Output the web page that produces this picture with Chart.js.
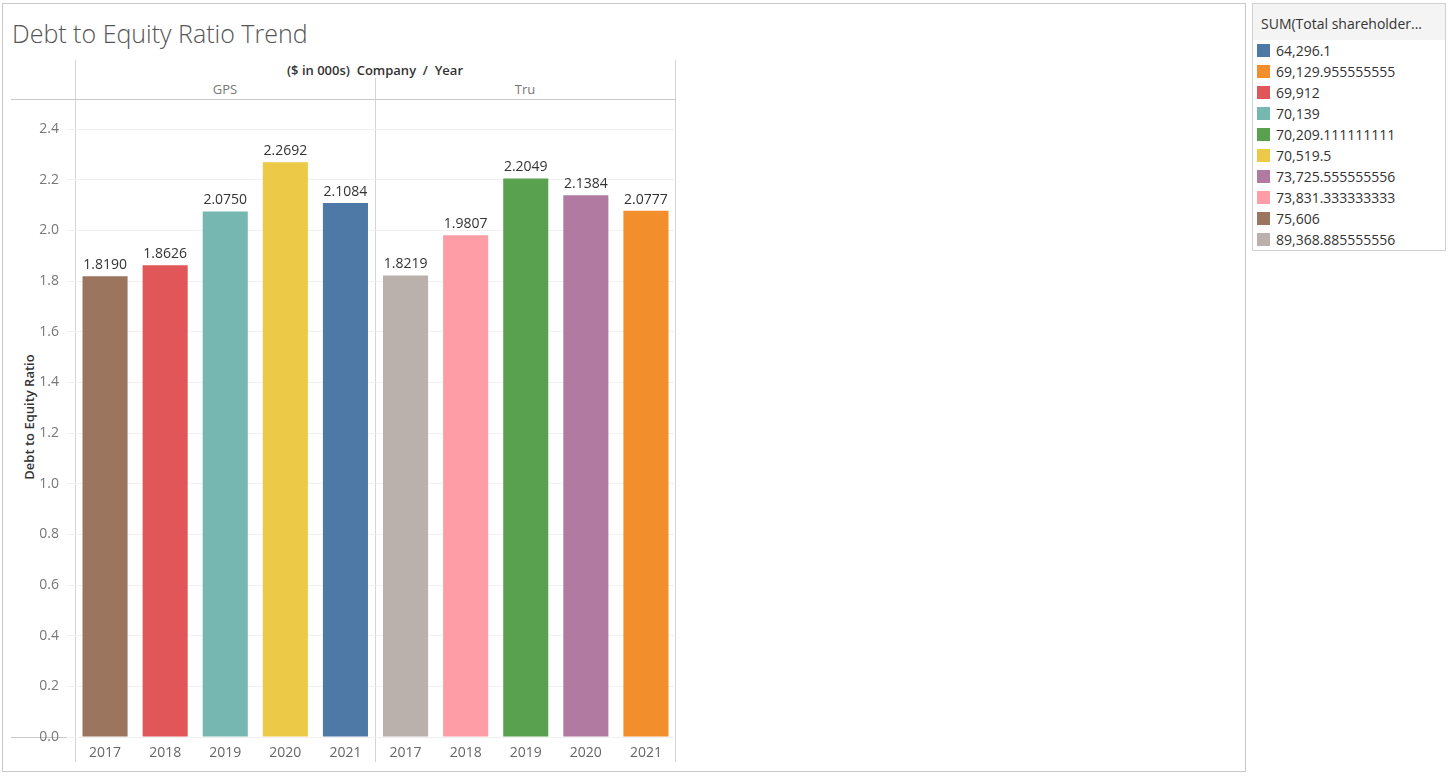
<!DOCTYPE html>
<html><head><meta charset="utf-8">
<script src="https://cdn.jsdelivr.net/npm/chart.js@4"></script>
<style>
body{margin:0;width:1450px;height:782px;background:#fff;font-family:"Open Sans",Lato,sans-serif;position:relative;overflow:hidden}
.abs{position:absolute}
#frame{left:2px;top:3px;width:1242px;height:767px;border:1px solid #c8c8c8}
#title{left:12px;top:16px;font-size:25px;color:#555;font-weight:300}
#yt{left:29px;top:417px;transform:translate(-50%,-50%) rotate(-90deg);font-size:13px;color:#333;font-weight:600;white-space:nowrap}
.hl{background:#c8c8c8;height:1px}
.vl{background:#d4d4d4;width:1px}
#legend{left:1252px;top:3px;width:192px;height:246px;border:1px solid #d0d0d0;font-size:14px;color:#333}
#legend .hd{background:#f4f4f4;padding:10px 0 0 8px;height:26px;font-size:14px}
#legend .it{height:21px;display:flex;align-items:center;padding-left:4px}
#legend .sw{width:13px;height:13px;margin-right:6px}
</style></head><body>
<div id="frame" class="abs"></div>
<div id="title" class="abs">Debt to Equity Ratio Trend</div>
<div class="abs" style="left:75px;top:61px;width:600px;text-align:center;font-size:13px;color:#333;font-weight:600">($ in 000s)&nbsp; Company&nbsp; /&nbsp; Year</div>
<div class="abs" style="left:75px;top:80px;width:300px;text-align:center;font-size:13px;color:#777">GPS</div>
<div class="abs" style="left:375px;top:80px;width:300px;text-align:center;font-size:13px;color:#777">Tru</div>
<div class="abs vl" style="left:75px;top:60px;height:702px"></div>
<div class="abs vl" style="left:375px;top:78px;height:684px"></div>
<div class="abs vl" style="left:675px;top:60px;height:702px"></div>
<div class="abs hl" style="left:11px;top:99px;width:665px"></div>
<div class="abs hl" style="left:11px;top:737px;width:665px"></div>
<div id="yt" class="abs">Debt to Equity Ratio</div>
<div class="abs" style="left:11px;top:100px;width:665px;height:662px"><canvas id="c"></canvas></div>
<div id="legend" class="abs"><div class="hd">SUM(Total shareholder...</div><div id="li"></div></div>
<script>
const companies=["GPS","Tru"];
const years=["2017","2018","2019","2020","2021","2017","2018","2019","2020","2021"];
const values=[1.8190,1.8626,2.0750,2.2692,2.1084,1.8219,1.9807,2.2049,2.1384,2.0777];
const yTicks=[0,0.2,0.4,0.6,0.8,1.0,1.2,1.4,1.6,1.8,2.0,2.2,2.4];
const barColors=["#9c755f","#e15759","#76b7b2","#edc948","#4e79a7","#bab0ac","#ff9da7","#59a14f","#b07aa1","#f28e2b"];
const legendLabels=["64,296.1","69,129.955555555","69,912","70,139","70,209.111111111","70,519.5","73,725.555555556","73,831.333333333","75,606","89,368.885555556"];
const legendColors=["#4e79a7","#f28e2b","#e15759","#76b7b2","#59a14f","#edc948","#b07aa1","#ff9da7","#9c755f","#bab0ac"];
document.getElementById('li').innerHTML=legendLabels.map((l,i)=>`<div class="it"><div class="sw" style="background:${legendColors[i]}"></div>${l}</div>`).join('');
const labelsPlugin={id:'lbl',afterDatasetsDraw(ch){const ctx=ch.ctx;const m=ch.getDatasetMeta(0);ctx.save();ctx.font='14px "Open Sans"';ctx.fillStyle='#333';ctx.textAlign='center';ctx.textBaseline='bottom';
m.data.forEach((b,i)=>ctx.fillText(values[i].toFixed(4),b.x,b.y-4));ctx.restore();}};
new Chart(document.getElementById('c'),{type:'bar',
data:{labels:years,datasets:[{data:values,backgroundColor:barColors,barPercentage:0.75,categoryPercentage:1}]},
options:{responsive:true,maintainAspectRatio:false,animation:false,layout:{padding:0},
plugins:{legend:{display:false},tooltip:{enabled:false}},
scales:{x:{afterFit(s){s.height=25},grid:{display:false},border:{display:false},ticks:{color:'#666',font:{size:14,family:'"Open Sans"'},padding:0}},
y:{min:0,max:2.45,afterFit(s){s.width=64},afterBuildTicks(s){s.ticks=yTicks.map(v=>({value:v}))},border:{display:false},grid:{color:'#f0f0f0'},
ticks:{color:'#777',font:{size:14,family:'"Open Sans"'},callback:v=>v.toFixed(1),padding:8}}}},
plugins:[labelsPlugin]});
</script></body></html>
